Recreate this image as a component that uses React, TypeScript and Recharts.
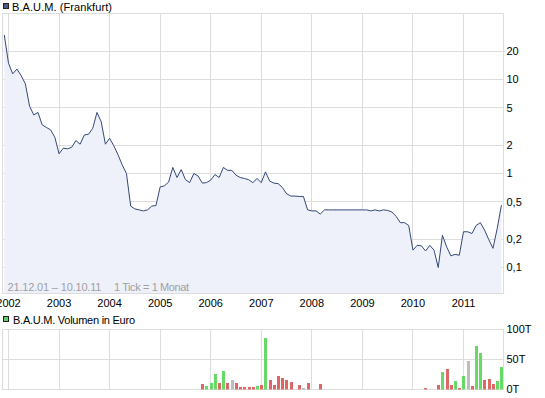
import React from 'react';
import {
  ComposedChart,
  Area,
  XAxis,
  YAxis,
  CartesianGrid,
  ReferenceArea,
  BarChart,
  Bar,
  Cell,
} from 'recharts';

// Monthly closing prices (EUR), Dec 2001 .. Oct 2011
const prices2001 = [29.8];
const prices2002 = [14.9, 11.5, 12.9, 11.0, 9.0, 5.2, 4.2, 4.46, 3.29, 3.09, 2.91, 2.43];
const prices2003 = [1.62, 1.86, 1.83, 1.9, 2.24, 2.05, 2.57, 2.62, 3.03, 4.46, 3.57, 2.05];
const prices2004 = [2.37, 1.97, 1.58, 1.23, 1.0, 0.45, 0.42, 0.41, 0.4, 0.41, 0.45, 0.456];
const prices2005 = [0.72, 0.74, 0.81, 1.16, 0.906, 1.1, 0.86, 0.8, 1.0, 0.94, 0.79, 0.8];
const prices2006 = [0.85, 0.975, 0.906, 1.16, 1.08, 1.08, 0.96, 0.906, 0.885, 0.86, 0.8, 0.885];
const prices2007 = [0.8, 1.04, 0.83, 0.79, 0.78, 0.71, 0.61, 0.575, 0.575, 0.57, 0.57, 0.41];
const prices2008 = [0.4, 0.4, 0.37, 0.41, 0.41, 0.41, 0.41, 0.41, 0.41, 0.41, 0.41, 0.41];
const prices2009 = [0.41, 0.41, 0.4, 0.41, 0.4, 0.41, 0.405, 0.39, 0.35, 0.3, 0.3, 0.28];
const prices2010 = [0.153, 0.172, 0.17, 0.15, 0.172, 0.153, 0.1, 0.22, 0.166, 0.133, 0.138, 0.135];
const prices2011 = [0.24, 0.24, 0.23, 0.28, 0.3, 0.25, 0.198, 0.16, 0.26, 0.46];

// Monthly volume (thousand EUR)
const volume2001 = [0];
const volume2002 = [0, 0, 0, 0, 0, 0, 0, 0, 0, 0, 0, 0];
const volume2003 = [0, 0, 0, 0, 0, 0, 0, 0, 0, 0, 0, 0];
const volume2004 = [0, 0, 0, 0, 0, 0, 0, 0, 0, 0, 0, 0];
const volume2005 = [0, 0, 0, 0, 0, 0, 0, 0, 0, 0, 8.9, 5.6];
const volume2006 = [10.6, 25.6, 10.6, 30.6, 10.6, 15.6, 10.6, 3.9, 3.9, 3.9, 3.9, 5.6];
const volume2007 = [7.2, 85.6, 15.6, 7.2, 22.2, 18.9, 15.6, 12.2, 0, 7.2, 2.2, 10.6];
const volume2008 = [0, 0, 8.9, 0, 0, 0, 0, 0, 0, 0, 0, 0];
const volume2009 = [0, 0, 0, 0, 0, 0, 0, 0, 0, 0, 0, 0];
const volume2010 = [0, 0, 0, 2.2, 0, 0, 7.2, 28.9, 33.9, 7.2, 13.9, 2.2];
const volume2011 = [22.2, 47.2, 5.6, 72.2, 60.6, 15.6, 17.2, 8.9, 13.9, 37.2];

const yearLabels = ['2002', '2003', '2004', '2005', '2006', '2007', '2008', '2009', '2010', '2011'];
const priceTicks = [0.1, 0.2, 0.5, 1, 2, 5, 10, 20];
const volumeTicks = [0, 50, 100];

const priceValues = [
  ...prices2001, ...prices2002, ...prices2003, ...prices2004, ...prices2005, ...prices2006,
  ...prices2007, ...prices2008, ...prices2009, ...prices2010, ...prices2011,
];
const volumeValues = [
  ...volume2001, ...volume2002, ...volume2003, ...volume2004, ...volume2005, ...volume2006,
  ...volume2007, ...volume2008, ...volume2009, ...volume2010, ...volume2011,
];

// index of January of each labelled year (index 0 = Dec 2001)
const yearTicks = yearLabels.map((_, i) => 1 + 12 * i);

const data = priceValues.map((p, i) => {
  const prev = i > 0 ? priceValues[i - 1] : p;
  const dir = p > prev ? 'up' : p < prev ? 'down' : 'flat';
  return { idx: i, price: p, volume: volumeValues[i] > 0 ? volumeValues[i] : null, dir };
});

const X_DOMAIN: [number, number] = [-0.4242, 118.494];
const Y_DOMAIN: [number, number] = [0.0529, 50.36];
const V_DOMAIN: [number, number] = [0, 100];

const FONT = '"Liberation Sans", Arial, Helvetica, sans-serif';
const GRID = '#dddddd';
const dirColor: Record<string, string> = { up: '#66d966', down: '#dd6666', flat: '#bdbdbd' };

const yearFmt = (v: number) => yearLabels[yearTicks.indexOf(v)] ?? '';
const priceFmt = (v: number) => String(v).replace('.', ',');
const volFmt = (v: number) => `${v}T`;

export default function App() {
  return (
    <div style={{ position: 'absolute', left: 0, top: 0, width: 545, height: 398, background: '#fff' }}>
      <style>{`.recharts-cartesian-grid line{shape-rendering:crispEdges}.recharts-bar-rectangle path{shape-rendering:crispEdges}.recharts-reference-area-rect{shape-rendering:crispEdges}`}</style>
      <div style={{ position: 'absolute', left: 0, top: 0 }}>
        <ComposedChart
          width={545}
          height={312}
          data={data}
          margin={{ top: 13.5, right: 0, bottom: 0.5, left: 2.5 }}
        >
          <CartesianGrid stroke={GRID} fill="#fff" />
          <XAxis
            dataKey="idx"
            type="number"
            domain={X_DOMAIN}
            allowDataOverflow
            ticks={yearTicks}
            interval={0}
            tickFormatter={yearFmt}
            axisLine={false}
            tickLine={false}
            tickSize={0}
            tickMargin={5.5}
            height={18}
            tick={{ fill: '#000', fontSize: 11, fontFamily: FONT }}
          />
          <YAxis
            orientation="right"
            type="number"
            scale="log"
            domain={Y_DOMAIN}
            allowDataOverflow
            ticks={priceTicks}
            interval={0}
            tickFormatter={priceFmt}
            axisLine={false}
            tickLine={false}
            tickSize={0}
            tickMargin={3}
            width={41.5}
            tick={{ fill: '#000', fontSize: 11, fontFamily: FONT }}
          />
          <Area
            type="linear"
            dataKey="price"
            stroke="#344878"
            strokeWidth={1}
            fill="#eef1fa"
            fillOpacity={1}
            baseValue="dataMin"
            dot={false}
            activeDot={false}
            isAnimationActive={false}
          />
          <ReferenceArea
            x1={X_DOMAIN[0]}
            x2={X_DOMAIN[1]}
            y1={Y_DOMAIN[0]}
            y2={Y_DOMAIN[1]}
            fill="none"
            fillOpacity={0}
            stroke={GRID}
            strokeOpacity={1}
            ifOverflow="visible"
          />
        </ComposedChart>
      </div>
      <div style={{ position: 'absolute', left: 0, top: 312 }}>
        <BarChart
          width={545}
          height={86}
          data={data}
          margin={{ top: 17.5, right: 0, bottom: 8.5, left: 2.5 }}
        >
          <CartesianGrid stroke={GRID} fill="#fff" />
          <XAxis
            dataKey="idx"
            type="number"
            domain={X_DOMAIN}
            allowDataOverflow
            ticks={yearTicks}
            interval={0}
            hide
          />
          <YAxis
            orientation="right"
            type="number"
            domain={V_DOMAIN}
            allowDataOverflow
            ticks={volumeTicks}
            interval={0}
            tickFormatter={volFmt}
            axisLine={false}
            tickLine={false}
            tickSize={0}
            tickMargin={3}
            width={41.5}
            tick={{ fill: '#000', fontSize: 11, fontFamily: FONT }}
          />
          <Bar dataKey="volume" barSize={3} isAnimationActive={false}>
            {data.map((d) => (
              <Cell key={d.idx} fill={dirColor[d.dir]} />
            ))}
          </Bar>
          <ReferenceArea
            x1={X_DOMAIN[0]}
            x2={X_DOMAIN[1]}
            y1={V_DOMAIN[0]}
            y2={V_DOMAIN[1]}
            fill="none"
            fillOpacity={0}
            stroke={GRID}
            strokeOpacity={1}
            ifOverflow="visible"
          />
        </BarChart>
      </div>
      <svg
        width={545}
        height={398}
        style={{ position: 'absolute', left: 0, top: 0, pointerEvents: 'none' }}
        fontFamily={FONT}
        fontSize={11}
      >
        <rect x={3.5} y={3.5} width={5} height={5} fill="#4b5b8b" stroke="#222" />
        <text x={12} y={11} fill="#000" textLength={100} lengthAdjust="spacing">B.A.U.M. (Frankfurt)</text>
        <text x={7.5} y={290.5} fill="#a0a0a0" textLength={94} lengthAdjust="spacing">21.12.01 – 10.10.11</text>
        <text x={114} y={290.5} fill="#a0a0a0" textLength={75} lengthAdjust="spacing">1 Tick = 1 Monat</text>
        <rect x={3.5} y={316.5} width={5} height={5} fill="#66cc66" stroke="#222" />
        <text x={13} y={324} fill="#000" textLength={122} lengthAdjust="spacing">B.A.U.M. Volumen in Euro</text>
      </svg>
    </div>
  );
}
